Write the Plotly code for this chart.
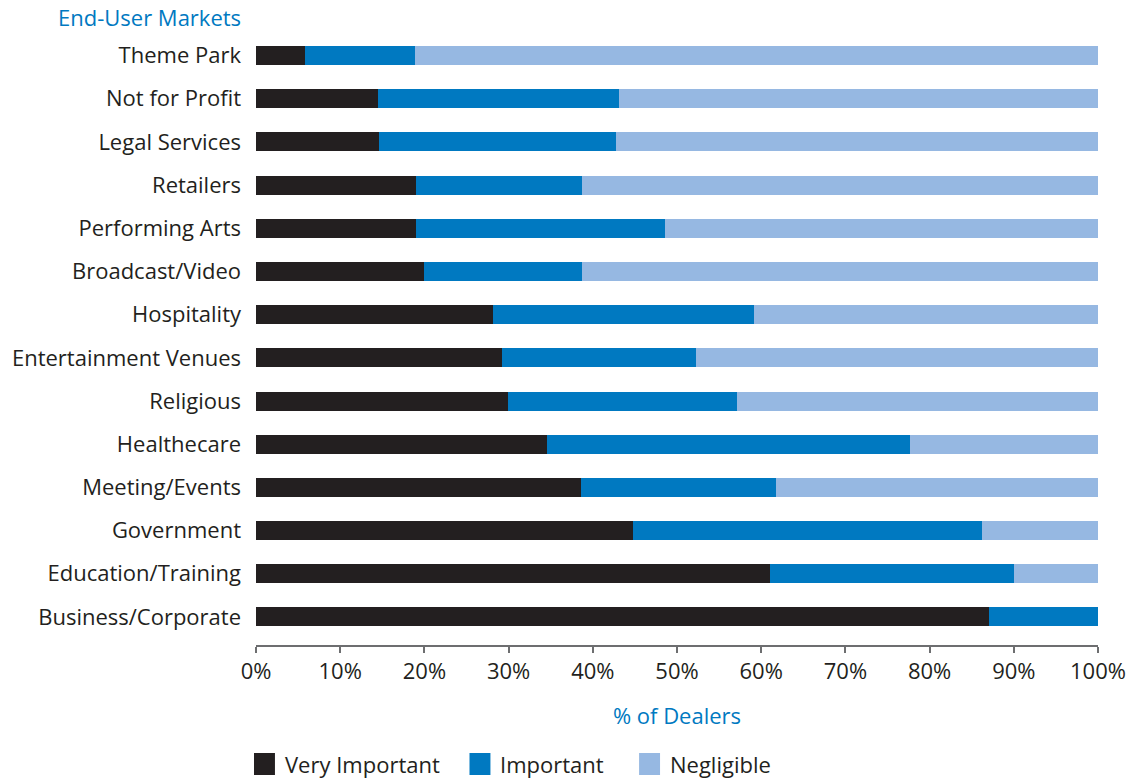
import plotly.graph_objects as go

# End-user markets, listed bottom to top as drawn on the category axis
markets = [
    "Business/Corporate", "Education/Training", "Government", "Meeting/Events",
    "Healthecare", "Religious", "Entertainment Venues", "Hospitality",
    "Broadcast/Video", "Performing Arts", "Retailers", "Legal Services",
    "Not for Profit", "Theme Park",
]

# Share of dealers (%) per rating
very_important = [87.0, 61.1, 44.8, 38.6, 34.6, 29.9, 29.2, 28.1, 20.0, 19.0, 19.0, 14.6, 14.5, 5.8]
important = [13.0, 28.9, 41.4, 23.2, 43.1, 27.2, 23.1, 31.0, 18.7, 29.6, 19.7, 28.2, 28.6, 13.1]
negligible = [0.0, 10.0, 13.8, 38.2, 22.3, 42.9, 47.7, 40.9, 61.3, 51.4, 61.3, 57.2, 56.9, 81.1]

series_names = ["Very Important", "Important", "Negligible"]
x_ticks = [0, 10, 20, 30, 40, 50, 60, 70, 80, 90, 100]
x_tick_labels = [f"{t}%" for t in x_ticks]

colors = ["#231f20", "#0079c1", "#96b8e2"]
text_color = "#231f20"
accent = "#0079c1"
font_family = "Open Sans, Lato, sans-serif"
fs = 22

fig = go.Figure()
for name, vals, col in zip(series_names, [very_important, important, negligible], colors):
    fig.add_trace(go.Bar(
        y=markets, x=vals, name=name, orientation="h",
        marker=dict(color=col, line=dict(width=0)),
        width=0.44, showlegend=False,
    ))

fig.update_layout(
    barmode="stack",
    width=1143, height=778,
    margin=dict(l=254, r=45, t=34, b=133),
    paper_bgcolor="white", plot_bgcolor="white",
    font=dict(family=font_family, size=fs, color=text_color),
    xaxis=dict(
        range=[0, 100], tickvals=x_ticks, ticktext=x_tick_labels,
        showgrid=False, zeroline=False,
        showline=True, linecolor="#6d6e70", linewidth=1.5,
        ticks="outside", ticklen=6, tickcolor="#6d6e70", tickwidth=1.5,
        tickfont=dict(size=fs, color=text_color),
        title=dict(text="% of Dealers", font=dict(size=fs, color=accent), standoff=24),
        fixedrange=True,
    ),
    yaxis=dict(
        range=[-0.65, 13.5], showgrid=False, zeroline=False, showline=False,
        ticks="", ticklabelstandoff=14,
        tickfont=dict(size=fs, color=text_color),
        fixedrange=True,
    ),
)

# Axis heading above the market labels
fig.add_annotation(
    text="End-User Markets", xref="paper", yref="paper",
    x=-0.015, y=1.0, xanchor="right", yanchor="bottom", yshift=0,
    showarrow=False, font=dict(size=fs, color=accent, family=font_family),
)

# Legend row beneath the axis title, drawn as colored squares with labels
legend_x = [252, 468, 638]  # left edge of each swatch in pixels
plot_l, plot_r = 254, 1143 - 45
plot_w = plot_r - plot_l
for name, col, px in zip(series_names, colors, legend_x):
    x0 = (px - plot_l) / plot_w
    x1 = (px + 21 - plot_l) / plot_w
    y_top = 1 - (753 - 34) / (645 - 34)
    y_bot = 1 - (775 - 34) / (645 - 34)
    fig.add_shape(type="rect", xref="paper", yref="paper",
                  x0=x0, x1=x1, y0=y_bot, y1=y_top,
                  fillcolor=col, line=dict(width=0))
    fig.add_annotation(
        text=name, xref="paper", yref="paper",
        x=(px + 29 - plot_l) / plot_w, y=(y_top + y_bot) / 2,
        xanchor="left", yanchor="middle", showarrow=False,
        font=dict(size=fs, color=text_color, family=font_family),
    )

fig.write_html("out.html")
